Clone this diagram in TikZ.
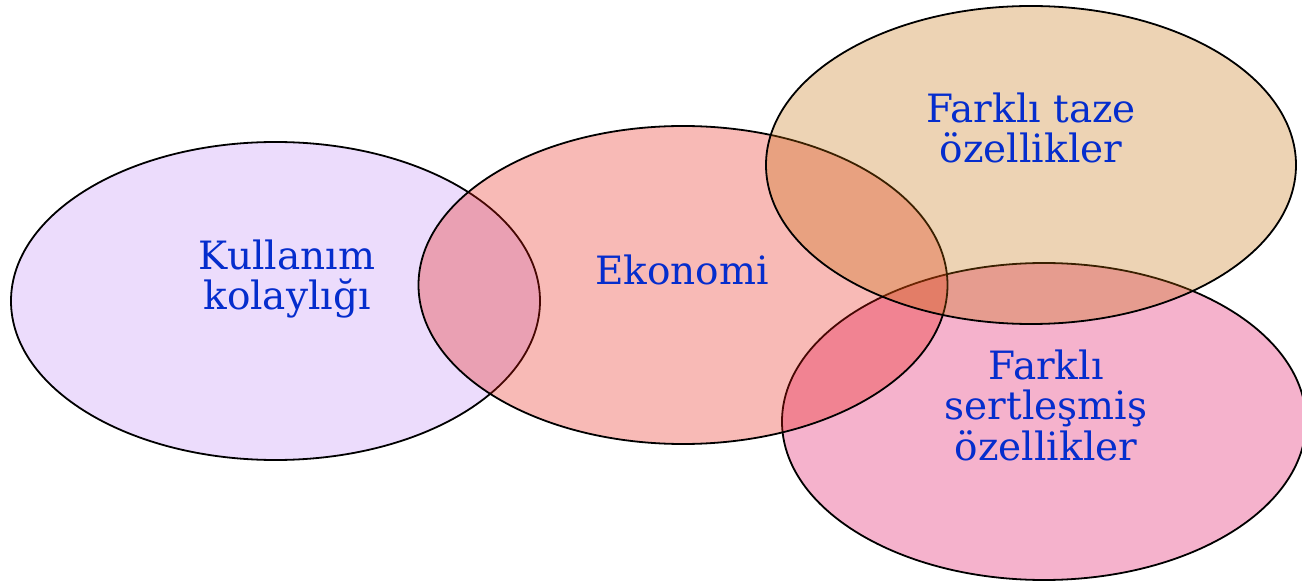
\documentclass[tikz,border=0pt]{standalone}
\usepackage{fontspec}
\setmainfont{DejaVu Serif}
\definecolor{cPurple}{RGB}{192,138,245}
\definecolor{cSalmon}{RGB}{232,25,12}
\definecolor{cTan}{RGB}{195,108,5}
\definecolor{cPink}{RGB}{222,0,85}
\definecolor{textblue}{RGB}{5,45,205}
\tikzset{
  venn/.style={draw=black, line width=1.8pt, fill opacity=0.3},
  lbl/.style={text=textblue, align=center, inner sep=0pt, font=\fontsize{39}{40.5}\selectfont, anchor=base}
}
\begin{document}
\begin{tikzpicture}[x=1pt,y=-1pt]
\useasboundingbox (0,0) rectangle (1302,585);
\fill[venn, fill=cPurple] (275.5,301) ellipse [x radius=264.5, y radius=159];
\fill[venn, fill=cPink] (1044,421.5) ellipse [x radius=262, y radius=158.5];
\fill[venn, fill=cSalmon] (683,285) ellipse [x radius=264.5, y radius=159];
\fill[venn, fill=cTan] (1031,165) ellipse [x radius=265, y radius=159];
\node[lbl] (use) at (287,310) {Kullanım\\kolaylığı};
\node[lbl] (eco) at (682,285) {Ekonomi};
\node[lbl] (fresh) at (1031,163) {Farklı taze\\özellikler};
\node[lbl] (hard) at (1046,460) {Farklı\\sertleşmiş\\özellikler};
\end{tikzpicture}
\end{document}
